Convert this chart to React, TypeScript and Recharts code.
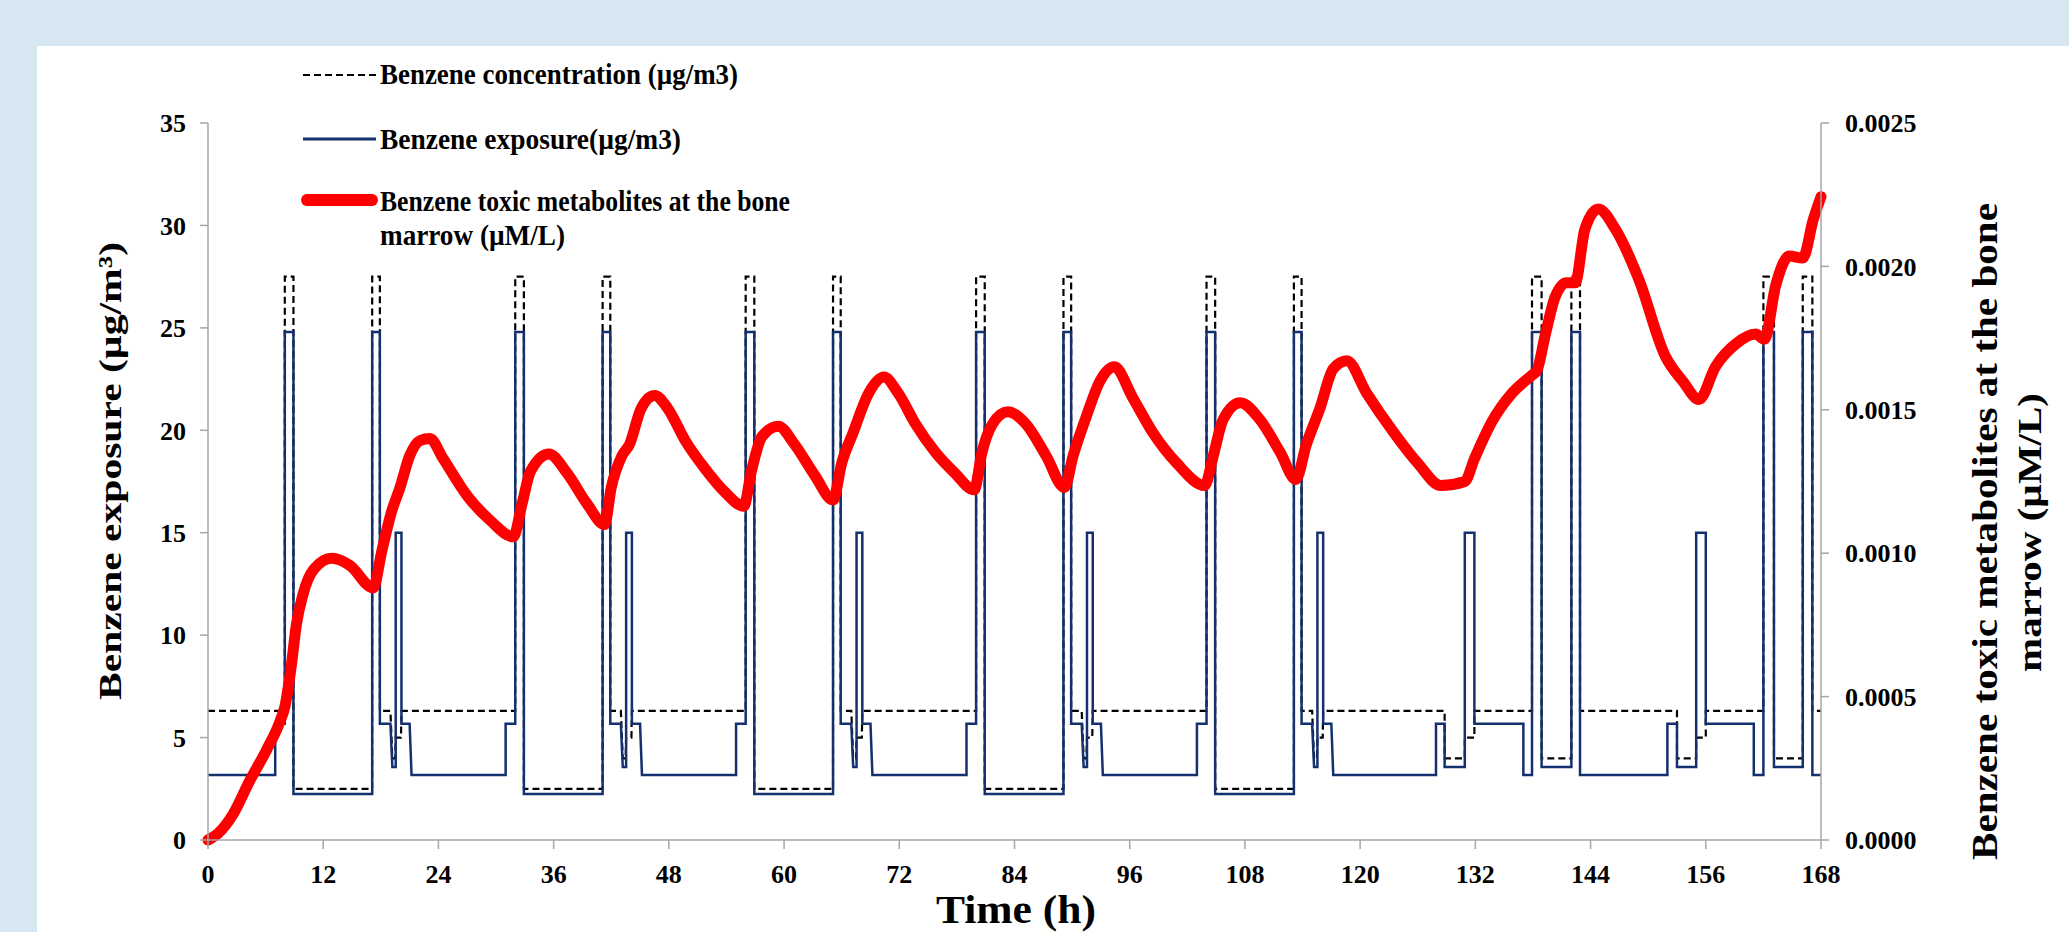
import React from 'react';
import { LineChart, Line, XAxis, YAxis } from 'recharts';

// ---------- ticks ----------
const timeTicks = [0, 12, 24, 36, 48, 60, 72, 84, 96, 108, 120, 132, 144, 156, 168];
const exposureTicks = [0, 5, 10, 15, 20, 25, 30, 35];
const metaboliteTicks = [0, 0.0005, 0.001, 0.0015, 0.002, 0.0025];

// ---------- Benzene exposure (µg/m3): [time h, value] breakpoints ----------
const exposurePoints: [number, number][] = [
  [0, 3.17], [7.0, 3.17], [7.0, 5.67], [8.0, 5.67], [8.0, 24.8], [8.9, 24.8], [8.9, 2.25], [17.1, 2.25], [17.1, 24.8], [17.9, 24.8], [17.9, 5.67], [19.0, 5.67], [19.2, 3.56], [19.55, 3.56], [19.55, 15], [20.15, 15], [20.15, 5.67], [21.0, 5.67], [21.2, 3.17],
  [31.0, 3.17], [31.0, 5.67], [32.0, 5.67], [32.0, 24.8], [32.9, 24.8], [32.9, 2.25], [41.1, 2.25], [41.1, 24.8], [41.9, 24.8], [41.9, 5.67], [43.0, 5.67], [43.2, 3.56], [43.55, 3.56], [43.55, 15], [44.15, 15], [44.15, 5.67], [45.0, 5.67], [45.2, 3.17],
  [55.0, 3.17], [55.0, 5.67], [56.0, 5.67], [56.0, 24.8], [56.9, 24.8], [56.9, 2.25], [65.1, 2.25], [65.1, 24.8], [65.9, 24.8], [65.9, 5.67], [67.0, 5.67], [67.2, 3.56], [67.55, 3.56], [67.55, 15], [68.15, 15], [68.15, 5.67], [69.0, 5.67], [69.2, 3.17],
  [79.0, 3.17], [79.0, 5.67], [80.0, 5.67], [80.0, 24.8], [80.9, 24.8], [80.9, 2.25], [89.1, 2.25], [89.1, 24.8], [89.9, 24.8], [89.9, 5.67], [91.0, 5.67], [91.2, 3.56], [91.55, 3.56], [91.55, 15], [92.15, 15], [92.15, 5.67], [93.0, 5.67], [93.2, 3.17],
  [103.0, 3.17], [103.0, 5.67], [104.0, 5.67], [104.0, 24.8], [104.9, 24.8], [104.9, 2.25], [113.1, 2.25], [113.1, 24.8], [113.9, 24.8], [113.9, 5.67], [115.0, 5.67], [115.2, 3.56], [115.55, 3.56], [115.55, 15], [116.15, 15], [116.15, 5.67], [117.0, 5.67], [117.2, 3.17],
  [127.9, 3.17], [127.9, 5.67], [128.8, 5.67], [128.8, 3.56], [130.9, 3.56], [130.9, 15], [131.9, 15], [131.9, 5.67], [137.0, 5.67], [137.0, 3.17], [137.9, 3.17], [137.9, 24.8], [138.9, 24.8], [138.9, 3.56], [142.0, 3.56], [142.0, 24.8], [142.9, 24.8], [142.9, 3.17],
  [152.0, 3.17], [152.0, 5.67], [153.0, 5.67], [153.0, 3.56], [155.0, 3.56], [155.0, 15], [156.0, 15], [156.0, 5.67], [161.0, 5.67], [161.0, 3.17], [162.0, 3.17], [162.0, 24.8], [163.1, 24.8], [163.1, 3.56], [166.1, 3.56], [166.1, 24.8], [167.1, 24.8], [167.1, 3.17], [168, 3.17],
];

// ---------- Benzene concentration (µg/m3): [time h, value] breakpoints ----------
const concentrationPoints: [number, number][] = [
  [0, 6.3], [8.0, 6.3], [8.0, 27.5], [8.9, 27.5], [8.9, 2.5], [17.1, 2.5], [17.1, 27.5], [17.9, 27.5], [17.9, 6.3], [19.0, 6.3], [19.2, 3.98], [19.5, 3.98], [19.55, 5.0], [20.1, 5.0], [20.15, 6.3],
  [32.0, 6.3], [32.0, 27.5], [32.9, 27.5], [32.9, 2.5], [41.1, 2.5], [41.1, 27.5], [41.9, 27.5], [41.9, 6.3], [43.0, 6.3], [43.2, 3.98], [43.5, 3.98], [43.55, 5.0], [44.1, 5.0], [44.15, 6.3],
  [56.0, 6.3], [56.0, 27.5], [56.9, 27.5], [56.9, 2.5], [65.1, 2.5], [65.1, 27.5], [65.9, 27.5], [65.9, 6.3], [67.0, 6.3], [67.2, 3.98], [67.5, 3.98], [67.55, 5.0], [68.1, 5.0], [68.15, 6.3],
  [80.0, 6.3], [80.0, 27.5], [80.9, 27.5], [80.9, 2.5], [89.1, 2.5], [89.1, 27.5], [89.9, 27.5], [89.9, 6.3], [91.0, 6.3], [91.2, 3.98], [91.5, 3.98], [91.55, 5.0], [92.1, 5.0], [92.15, 6.3],
  [104.0, 6.3], [104.0, 27.5], [104.9, 27.5], [104.9, 2.5], [113.1, 2.5], [113.1, 27.5], [113.9, 27.5], [113.9, 6.3], [115.0, 6.3], [115.2, 3.98], [115.5, 3.98], [115.55, 5.0], [116.1, 5.0], [116.15, 6.3],
  [128.8, 6.3], [128.8, 3.98], [130.9, 3.98], [130.9, 5.0], [131.9, 5.0], [131.9, 6.3], [137.9, 6.3], [137.9, 27.5], [138.9, 27.5], [138.9, 3.98], [142.0, 3.98], [142.0, 27.5], [142.9, 27.5], [142.9, 6.3],
  [153.0, 6.3], [153.0, 3.98], [155.0, 3.98], [155.0, 5.0], [156.0, 5.0], [156.0, 6.3], [162.0, 6.3], [162.0, 27.5], [163.1, 27.5], [163.1, 3.98], [166.1, 3.98], [166.1, 27.5], [167.1, 27.5], [167.1, 6.3], [168, 6.3],
];

// ---------- Benzene toxic metabolites at the bone marrow (µM/L): [time h, value] ----------
const metabolitePoints: [number, number][] = [
  [0, 0.0], [1.0, 0.0000214], [2.6, 0.0000893], [4.35, 0.000207], [6.1, 0.000314], [7.5, 0.000414], [8.0, 0.000464],
  [8.7, 0.000614], [9.2, 0.00075], [9.9, 0.000857], [11.0, 0.000943], [12.9, 0.000982], [14.8, 0.000957], [17.2, 0.000879],
  [18.1, 0.001007], [19.1, 0.001143], [20.0, 0.001229], [21.0, 0.001339], [22.1, 0.001393], [23.1, 0.0014], [24.5, 0.001329],
  [27.0, 0.0012], [29.4, 0.001114], [31.8, 0.001057], [32.7, 0.001171], [33.6, 0.001286], [35.5, 0.001346], [37.4, 0.001279],
  [39.5, 0.001171], [41.3, 0.0011], [42.0, 0.001229], [43.1, 0.001339], [43.9, 0.001379], [45.1, 0.001504], [46.5, 0.00155],
  [47.9, 0.001504], [49.7, 0.001393], [51.8, 0.001293], [53.8, 0.001214], [55.8, 0.001164], [56.6, 0.001286], [57.7, 0.001407],
  [59.4, 0.001443], [61.1, 0.001379], [63.2, 0.001271], [65.1, 0.001186], [66.0, 0.001314], [67.2, 0.001421], [68.8, 0.001557],
  [70.4, 0.001614], [71.9, 0.001557], [73.7, 0.00145], [75.8, 0.00135], [77.8, 0.001279], [79.8, 0.001221], [80.6, 0.00135],
  [81.7, 0.00145], [83.3, 0.001493], [85.2, 0.00145], [87.3, 0.001339], [89.2, 0.001229], [90.1, 0.001339], [91.5, 0.001479],
  [92.9, 0.0016], [94.4, 0.00165], [96.3, 0.001543], [98.4, 0.001421], [100.9, 0.001314], [103.8, 0.001236], [104.7, 0.001339],
  [105.7, 0.001464], [107.5, 0.001525], [109.6, 0.001464], [111.7, 0.00135], [113.3, 0.001257], [114.4, 0.001379], [115.8, 0.001504],
  [117.2, 0.001643], [118.6, 0.001671], [120.7, 0.001557], [123.5, 0.001421], [126.0, 0.001314], [128.4, 0.001236], [130.9, 0.00125],
  [131.9, 0.001329], [133.7, 0.001457], [135.8, 0.001557], [137.9, 0.001621], [138.4, 0.001636], [139.3, 0.001764], [140.3, 0.001893],
  [141.5, 0.001943], [142.4, 0.001943], [143.4, 0.002129], [144.8, 0.0022], [146.6, 0.002129], [149.0, 0.001957], [151.8, 0.001686],
  [153.6, 0.0016], [155.3, 0.001536], [157.0, 0.00165], [159.1, 0.001729], [161.2, 0.001764], [162.1, 0.001746], [163.3, 0.001936],
  [164.7, 0.002036], [166.1, 0.002029], [167.2, 0.002164], [168, 0.002243],
];

const toRows = (pts: [number, number][]) => pts.map(([t, v]) => ({ t, v }));
const exposureData = toRows(exposurePoints);
const concentrationData = toRows(concentrationPoints);
const metaboliteData = toRows(metabolitePoints);

const FONT = '"Liberation Serif", "Times New Roman", serif';
const AXIS_GREY = '#a6a6a6';
const NAVY = '#14306e';
const tickStyle = { fill: '#000', fontSize: 26, fontWeight: 700, fontFamily: FONT };

export default function App() {
  return (
    <div style={{ position: 'absolute', left: 0, top: 0, width: 2069, height: 932, background: '#d7e7f1', overflow: 'hidden' }}>
      <div style={{ position: 'absolute', left: 37, top: 46, right: 0, bottom: 0, background: '#ffffff' }} />
      <div style={{ position: 'absolute', left: 0, top: 0 }}>
        <LineChart width={2069} height={932} margin={{ top: 123, right: 138, bottom: 42, left: 128 }}>
          <XAxis
            dataKey="t"
            type="number"
            domain={[0, 168]}
            ticks={timeTicks}
            interval={0}
            height={50}
            tickSize={9}
            tickMargin={16}
            axisLine={{ stroke: AXIS_GREY, strokeWidth: 1.5 }}
            tickLine={{ stroke: AXIS_GREY, strokeWidth: 1.5 }}
            tick={tickStyle}
          />
          <YAxis
            yAxisId="left"
            type="number"
            domain={[0, 35]}
            ticks={exposureTicks}
            interval={0}
            width={80}
            tickSize={8}
            tickMargin={14}
            axisLine={{ stroke: AXIS_GREY, strokeWidth: 1.5 }}
            tickLine={{ stroke: AXIS_GREY, strokeWidth: 1.5 }}
            tick={tickStyle}
          />
          <YAxis
            yAxisId="right"
            orientation="right"
            type="number"
            domain={[0, 0.0025]}
            ticks={metaboliteTicks}
            interval={0}
            width={110}
            tickSize={8}
            tickMargin={16}
            tickFormatter={(v: number) => v.toFixed(4)}
            axisLine={{ stroke: AXIS_GREY, strokeWidth: 1.5 }}
            tickLine={{ stroke: AXIS_GREY, strokeWidth: 1.5 }}
            tick={tickStyle}
          />
          <Line
            yAxisId="left"
            data={concentrationData}
            dataKey="v"
            type="linear"
            stroke="#000000"
            strokeWidth={2.2}
            strokeDasharray="7 4"
            dot={false}
            activeDot={false}
            isAnimationActive={false}
          />
          <Line
            yAxisId="left"
            data={exposureData}
            dataKey="v"
            type="linear"
            stroke={NAVY}
            strokeWidth={2.5}
            dot={false}
            activeDot={false}
            isAnimationActive={false}
          />
          <Line
            yAxisId="right"
            data={metaboliteData}
            dataKey="v"
            type="monotone"
            stroke="#ff0000"
            strokeWidth={11}
            strokeLinecap="round"
            strokeLinejoin="round"
            dot={false}
            activeDot={false}
            isAnimationActive={false}
          />
        </LineChart>
      </div>
      <svg width={2069} height={932} style={{ position: 'absolute', left: 0, top: 0, pointerEvents: 'none' }}>
        <g fontFamily={FONT} fontWeight={700} fill="#000" style={{ whiteSpace: 'pre' }}>
          {/* legend */}
          <line x1={303} x2={376} y1={75} y2={75} stroke="#000" strokeWidth={2} strokeDasharray="7 4" />
          <text x={380} y={84} fontSize={30} textLength={358} lengthAdjust="spacingAndGlyphs">Benzene  concentration (µg/m3)</text>
          <line x1={303} x2={376} y1={139} y2={139} stroke={NAVY} strokeWidth={3} />
          <text x={380} y={149} fontSize={30} textLength={301} lengthAdjust="spacingAndGlyphs">Benzene  exposure(µg/m3)</text>
          <line x1={307} x2={372} y1={200} y2={200} stroke="#ff0000" strokeWidth={12} strokeLinecap="round" />
          <text x={380} y={211} fontSize={30} textLength={410} lengthAdjust="spacingAndGlyphs">Benzene toxic metabolites at the bone</text>
          <text x={380} y={245} fontSize={30} textLength={185} lengthAdjust="spacingAndGlyphs">marrow (µM/L)</text>

          {/* left axis title */}
          <g transform="translate(121,471) rotate(-90)">
            <text x={-229} y={0} fontSize={32} textLength={458} lengthAdjust="spacingAndGlyphs">Benzene exposure  (µg/m³)</text>
          </g>
          {/* right axis title */}
          <g transform="translate(1997,532) rotate(-90)">
            <text x={-328} y={0} fontSize={36} textLength={657} lengthAdjust="spacingAndGlyphs">Benzene toxic metabolites at the bone</text>
          </g>
          <g transform="translate(2041,533) rotate(-90)">
            <text x={-139} y={0} fontSize={34} textLength={279} lengthAdjust="spacingAndGlyphs">marrow  (µM/L)</text>
          </g>
          {/* x axis title */}
          <text x={936} y={923} fontSize={40} textLength={160} lengthAdjust="spacingAndGlyphs">Time (h)</text>
        </g>
      </svg>
    </div>
  );
}
